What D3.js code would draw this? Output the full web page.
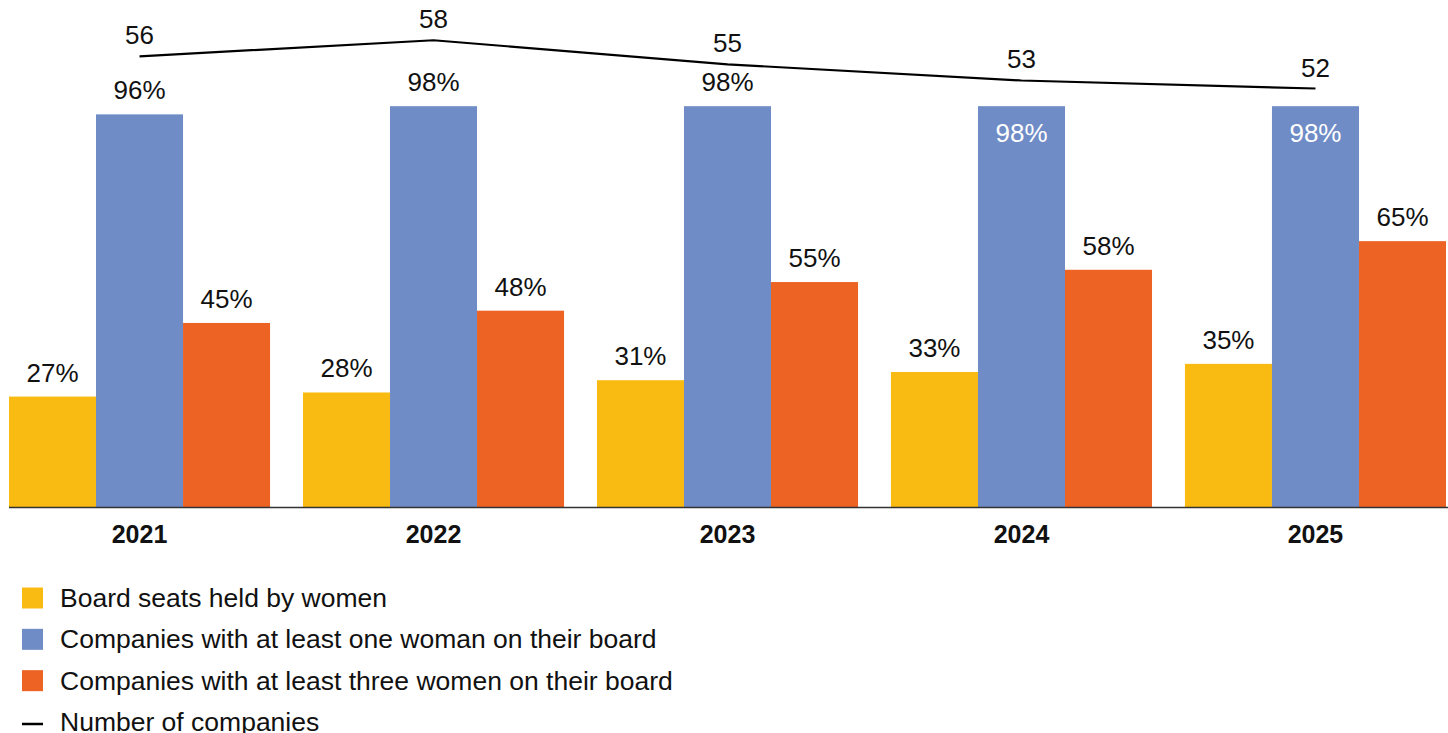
<!DOCTYPE html>
<html>
<head>
<meta charset="utf-8">
<script src="https://cdn.jsdelivr.net/npm/d3@7"></script>
<style>
  html, body { margin: 0; padding: 0; background: #fff; }
  svg { display: block; }
  text { font-family: "Liberation Sans", Arial, Helvetica, sans-serif; fill: #111; }
</style>
</head>
<body>
<svg id="chart" width="1448" height="733"></svg>
<script>
// Board diversity, 2021–2025
const years = ["2021", "2022", "2023", "2024", "2025"];
const boardSeatsWomen = [27, 28, 31, 33, 35];          // % of board seats held by women
const atLeastOneWoman = [96, 98, 98, 98, 98];          // % of companies with ≥1 woman
const atLeastThreeWomen = [45, 48, 55, 58, 65];        // % of companies with ≥3 women
const numberOfCompanies = [56, 58, 55, 53, 52];        // companies covered

const seriesNames = [
  "Board seats held by women",
  "Companies with at least one woman on their board",
  "Companies with at least three women on their board"
];
const lineName = "Number of companies";
const seriesColors = ["#F9BA12", "#6F8CC6", "#EC6323"];

const series = [boardSeatsWomen, atLeastOneWoman, atLeastThreeWomen];

const svg = d3.select("#chart");
const W = 1448;
const baseY = 507;

// scales
const x0 = d3.scaleBand().domain(years).range([9, 1446]).paddingInner(0.112).paddingOuter(0);
const x1 = d3.scaleBand().domain(d3.range(series.length)).range([0, x0.bandwidth()]).padding(0);
const yPct = d3.scaleLinear().domain([0, 100]).range([baseY, 98]);
const yCount = d3.scaleLinear().domain([0, 63]).range([baseY, 0]);

const rows = years.map((yr, i) => ({
  year: yr,
  values: series.map((s, k) => ({ k, v: s[i] })),
  count: numberOfCompanies[i]
}));

// bars
const groups = svg.append("g").selectAll("g")
  .data(rows).join("g")
  .attr("transform", d => `translate(${x0(d.year)},0)`);

groups.selectAll("rect")
  .data(d => d.values).join("rect")
  .attr("x", d => x1(d.k))
  .attr("y", d => yPct(d.v))
  .attr("width", x1.bandwidth())
  .attr("height", d => baseY - yPct(d.v))
  .attr("fill", d => seriesColors[d.k]);

// value labels: above the bar, or inside it when the count line passes through
const labelSize = 26;
groups.each(function (row) {
  const g = d3.select(this);
  const lineY = yCount(row.count);
  row.values.forEach(d => {
    const top = yPct(d.v);
    const aboveBaseline = top - 15;
    const aboveTop = aboveBaseline - 19;
    const inside = lineY > aboveTop && lineY < top;
    g.append("text")
      .attr("x", x1(d.k) + x1.bandwidth() / 2)
      .attr("y", inside ? top + 36 : aboveBaseline)
      .attr("text-anchor", "middle")
      .style("font-size", labelSize + "px")
      .style("fill", inside ? "#fff" : "#111")
      .text(d.v + "%");
  });
});

// baseline axis with year labels
const axis = d3.axisBottom(x0).tickSize(0).tickPadding(18);
const axisG = svg.append("g").attr("transform", `translate(0,${baseY})`).call(axis);
axisG.select(".domain").remove();
axisG.selectAll("text")
  .style("font-family", '"Liberation Sans", Arial, Helvetica, sans-serif')
  .style("font-size", "25px")
  .style("font-weight", "bold")
  .style("fill", "#111")
  .attr("dy", "0.71em");
svg.append("line")
  .attr("x1", 9).attr("x2", W)
  .attr("y1", baseY + 0.5).attr("y2", baseY + 0.5)
  .attr("stroke", "#333").attr("stroke-width", 1.5);

// number of companies line
const cx = d => x0(d.year) + x0.bandwidth() / 2;
const line = d3.line().x(cx).y(d => yCount(d.count));
svg.append("path")
  .datum(rows)
  .attr("d", line)
  .attr("fill", "none")
  .attr("stroke", "#000")
  .attr("stroke-width", 2.2);

svg.append("g").selectAll("text")
  .data(rows).join("text")
  .attr("x", cx)
  .attr("y", d => yCount(d.count) - 12)
  .attr("text-anchor", "middle")
  .style("font-size", "26px")
  .text(d => d.count);

// legend
const legend = svg.append("g").attr("transform", "translate(22,0)");
const legendRows = seriesNames.map((name, k) => ({ name, color: seriesColors[k], kind: "box" }))
  .concat([{ name: lineName, color: "#000", kind: "line" }]);
const legendY = d3.scalePoint().domain(d3.range(legendRows.length)).range([598, 722]);

legendRows.forEach((d, i) => {
  const cy = legendY(i);
  if (d.kind === "box") {
    legend.append("rect")
      .attr("x", 0).attr("y", cy - 10.5)
      .attr("width", 21).attr("height", 21)
      .attr("fill", d.color);
  } else {
    legend.append("line")
      .attr("x1", 0).attr("x2", 21)
      .attr("y1", cy + 2).attr("y2", cy + 2)
      .attr("stroke", d.color).attr("stroke-width", 2.5);
  }
  legend.append("text")
    .attr("x", 38)
    .attr("y", cy + 9)
    .style("font-size", "26.5px")
    .text(d.name);
});
</script>
</body>
</html>
